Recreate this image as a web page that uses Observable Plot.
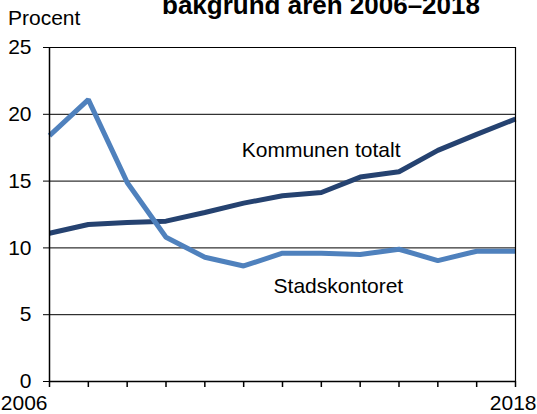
<!DOCTYPE html>
<html>
<head>
<meta charset="utf-8">
<script src="https://cdn.jsdelivr.net/npm/d3@7"></script>
<script src="https://cdn.jsdelivr.net/npm/@observablehq/plot@0.6"></script>
<style>
  body { margin: 0; background: #fff; font-family: "Liberation Sans", Arial, sans-serif; }
  #wrap { position: relative; width: 537px; height: 414px; overflow: hidden; }
  #title { position: absolute; left: 162px; top: -8px; font-size: 26px; font-weight: bold; line-height: 1; white-space: nowrap; color: #000; }
  #ylab { position: absolute; left: 8px; top: 7px; font-size: 21px; line-height: 1; color: #000; }
  #chart { position: absolute; left: 0; top: 0; }
</style>
</head>
<body>
<div id="wrap">
  <div id="chart"></div>
  <div id="title">bakgrund åren 2006–2018</div>
  <div id="ylab">Procent</div>
</div>
<script>
const years = [2006, 2007, 2008, 2009, 2010, 2011, 2012, 2013, 2014, 2015, 2016, 2017, 2018];
const stadskontoret = [18.4, 21.1, 14.9, 10.8, 9.3, 8.65, 9.6, 9.6, 9.5, 9.9, 9.05, 9.75, 9.75];
const kommunen = [11.1, 11.75, 11.9, 12.0, 12.65, 13.35, 13.9, 14.15, 15.3, 15.7, 17.3, 18.5, 19.65];
const seriesNames = ["Kommunen totalt", "Stadskontoret"];
const seriesColors = ["#254270", "#4f81bd"];
const yTicks = [0, 5, 10, 15, 20, 25];
const xLabelTicks = [2006, 2018];
const labelPos = [{name: "Kommunen totalt", x: 2010.95, y: 17.3}, {name: "Stadskontoret", x: 2011.77, y: 7.1}];

const data = [];
years.forEach((yr, i) => {
  data.push({year: yr, value: kommunen[i], series: seriesNames[0]});
  data.push({year: yr, value: stadskontoret[i], series: seriesNames[1]});
});

const chart = Plot.plot({
  width: 537,
  height: 414,
  marginLeft: 49,
  marginRight: 22,
  marginTop: 47,
  marginBottom: 33,
  style: {fontFamily: "'Liberation Sans', Arial, sans-serif", fontSize: "21px", color: "#000", background: "transparent"},
  x: {domain: [2006, 2018]},
  y: {domain: [0, 25]},
  color: {domain: seriesNames, range: seriesColors},
  marks: [
    Plot.ruleY(yTicks.filter(d => d > 0), {stroke: "#000", strokeWidth: 1}),
    Plot.line(data, {x: "year", y: "value", z: "series", stroke: "series", strokeWidth: 5, strokeLinejoin: "miter", strokeLinecap: "butt"}),
    Plot.ruleX([2006], {stroke: "#000", strokeWidth: 1.5}),
    Plot.ruleX([2018], {stroke: "#000", strokeWidth: 1.2}),
    Plot.ruleY([0], {stroke: "#000", strokeWidth: 1.5}),
    Plot.axisY(yTicks, {tickSize: 6, tickPadding: 12, label: null, fontSize: 21, stroke: "#000"}),
    Plot.axisX(years, {tickSize: 6, tickFormat: () => "", label: null, stroke: "#000", strokeWidth: 1.5}),
    Plot.axisX([xLabelTicks[0]], {tickSize: 0, tickPadding: 14, textAnchor: "end", dx: -2, tickFormat: d => String(d), label: null, fontSize: 21}),
    Plot.axisX([xLabelTicks[1]], {tickSize: 0, tickPadding: 14, textAnchor: "end", dx: 21, tickFormat: d => String(d), label: null, fontSize: 21}),
    Plot.text(labelPos, {x: "x", y: "y", text: "name", textAnchor: "start", fontSize: 21, fill: "#000"})
  ]
});
document.getElementById("chart").appendChild(chart);
</script>
</body>
</html>
